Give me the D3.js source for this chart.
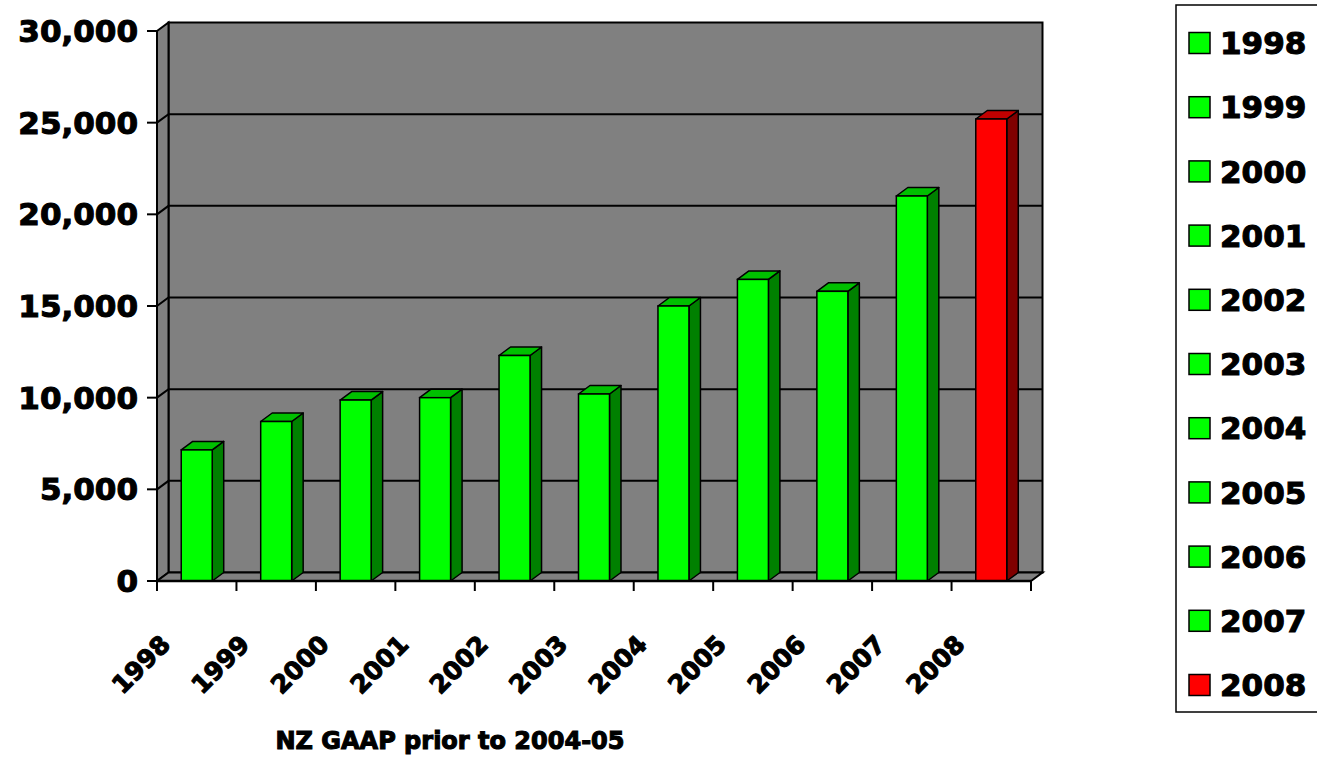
<!DOCTYPE html>
<html>
<head>
<meta charset="utf-8">
<script src="https://cdn.jsdelivr.net/npm/d3@7"></script>
<style>
  body { margin: 0; background: #fff; }
  text { font-family: "DejaVu Sans", sans-serif; font-weight: bold; fill: #000; stroke: #000; stroke-width: 1.1px; }
</style>
</head>
<body>
<svg id="chart" width="1317" height="768"></svg>
<script>
const years = ["1998", "1999", "2000", "2001", "2002", "2003", "2004", "2005", "2006", "2007", "2008"];
const values = [7150, 8700, 9870, 10000, 12300, 10200, 15000, 16450, 15800, 21000, 25200];
const yTicks = [0, 5000, 10000, 15000, 20000, 25000, 30000];
const highlightYear = "2008";
const xTitle = "NZ GAAP prior to 2004-05";

(function() {
    const svg = d3.select("#chart");
    const dx = 11.5, dy = 8.5;   // depth offset of the 3d box

    const x = d3.scaleBand().domain(years).range([157, 1031]);
    const y = d3.scaleLinear().domain([0, 30000]).range([581, 31]);
    const barW = x.bandwidth() * 0.39;
    const x0 = 157, x1 = 1031, y0 = y(0), yTop = y(30000);

    const front = d => d === highlightYear ? "#ff0000" : "#00ff00";
    const top = d => d === highlightYear ? "#c00000" : "#00c000";
    const side = d => d === highlightYear ? "#800000" : "#008000";

    // walls
    svg.append("rect")
        .attr("x", x0 + dx).attr("y", yTop - dy)
        .attr("width", x1 - x0).attr("height", y0 - yTop)
        .attr("fill", "#808080").attr("stroke", "#000").attr("stroke-width", 2);
    svg.append("polygon")
        .attr("points", [[x0, yTop], [x0 + dx, yTop - dy], [x0 + dx, y0 - dy], [x0, y0]].join(" "))
        .attr("fill", "#808080").attr("stroke", "#000").attr("stroke-width", 2);

    // gridlines on back and side walls
    const grid = yTicks.filter(v => v > 0 && v < 30000);
    svg.selectAll(".grid").data(grid).join("polyline")
        .attr("class", "grid")
        .attr("points", v => [[x0, y(v)], [x0 + dx, y(v) - dy], [x1 + dx, y(v) - dy]].join(" "))
        .attr("fill", "none").attr("stroke", "#000").attr("stroke-width", 2);

    // floor
    svg.append("polygon")
        .attr("points", [[x0, y0], [x1, y0], [x1 + dx, y0 - dy], [x0 + dx, y0 - dy]].join(" "))
        .attr("fill", "#808080").attr("stroke", "#000").attr("stroke-width", 2);

    // bars
    const bars = svg.selectAll(".bar").data(years).join("g").attr("class", "bar");
    bars.each(function(d, i) {
        const g = d3.select(this);
        const bx = x(d) + (x.bandwidth() - barW) / 2;
        const by = y(values[i]);
        g.append("polygon")
            .attr("points", [[bx + barW, by], [bx + barW + dx, by - dy], [bx + barW + dx, y0 - dy], [bx + barW, y0]].join(" "))
            .attr("fill", side(d)).attr("stroke", "#000").attr("stroke-width", 1.5).attr("stroke-linejoin", "round");
        g.append("polygon")
            .attr("points", [[bx, by], [bx + dx, by - dy], [bx + barW + dx, by - dy], [bx + barW, by]].join(" "))
            .attr("fill", top(d)).attr("stroke", "#000").attr("stroke-width", 1.5).attr("stroke-linejoin", "round");
        g.append("rect")
            .attr("x", bx).attr("y", by).attr("width", barW).attr("height", y0 - by)
            .attr("fill", front(d)).attr("stroke", "#000").attr("stroke-width", 1.5);
    });

    // axes
    svg.append("line").attr("x1", x0).attr("x2", x0).attr("y1", yTop).attr("y2", y0)
        .attr("stroke", "#000").attr("stroke-width", 2);
    svg.append("line").attr("x1", x0).attr("x2", x1).attr("y1", y0).attr("y2", y0)
        .attr("stroke", "#000").attr("stroke-width", 2.5);

    svg.selectAll(".ytick").data(yTicks).join("line")
        .attr("x1", x0 - 10).attr("x2", x0).attr("y1", d => y(d)).attr("y2", d => y(d))
        .attr("stroke", "#000").attr("stroke-width", 2);
    svg.selectAll(".ylab").data(yTicks).join("text")
        .attr("x", 138).attr("y", d => y(d)).attr("dy", "0.36em")
        .attr("text-anchor", "end").style("font-size", "31px")
        .text(d => d3.format(",")(d));

    const bounds = years.map(d => x(d)).concat([x1]);
    svg.selectAll(".xtick").data(bounds).join("line")
        .attr("x1", d => d).attr("x2", d => d).attr("y1", y0).attr("y2", y0 + 10)
        .attr("stroke", "#000").attr("stroke-width", 2);
    svg.selectAll(".xlab").data(years).join("text")
        .attr("transform", d => `translate(${x(d) + x.bandwidth() / 2 - 25},646) rotate(-45)`)
        .attr("text-anchor", "end").style("font-size", "25px")
        .text(d => d);

    svg.append("text")
        .attr("x", 450).attr("y", 749).attr("text-anchor", "middle")
        .style("font-size", "24px")
        .text(xTitle);

    // legend
    const legend = svg.append("g");
    legend.append("rect")
        .attr("x", 1176).attr("y", 5).attr("width", 200).attr("height", 707)
        .attr("fill", "#fff").attr("stroke", "#000").attr("stroke-width", 1.5);
    const ly = d3.scalePoint().domain(years).range([43, 685]);
    legend.selectAll(".sw").data(years).join("rect")
        .attr("x", 1189).attr("y", d => ly(d) - 10.5).attr("width", 21).attr("height", 21)
        .attr("fill", front).attr("stroke", "#000").attr("stroke-width", 1.5);
    legend.selectAll(".lt").data(years).join("text")
        .attr("x", 1220).attr("y", d => ly(d)).attr("dy", "0.36em")
        .style("font-size", "31px")
        .text(d => d);
})();
</script>
</body>
</html>
